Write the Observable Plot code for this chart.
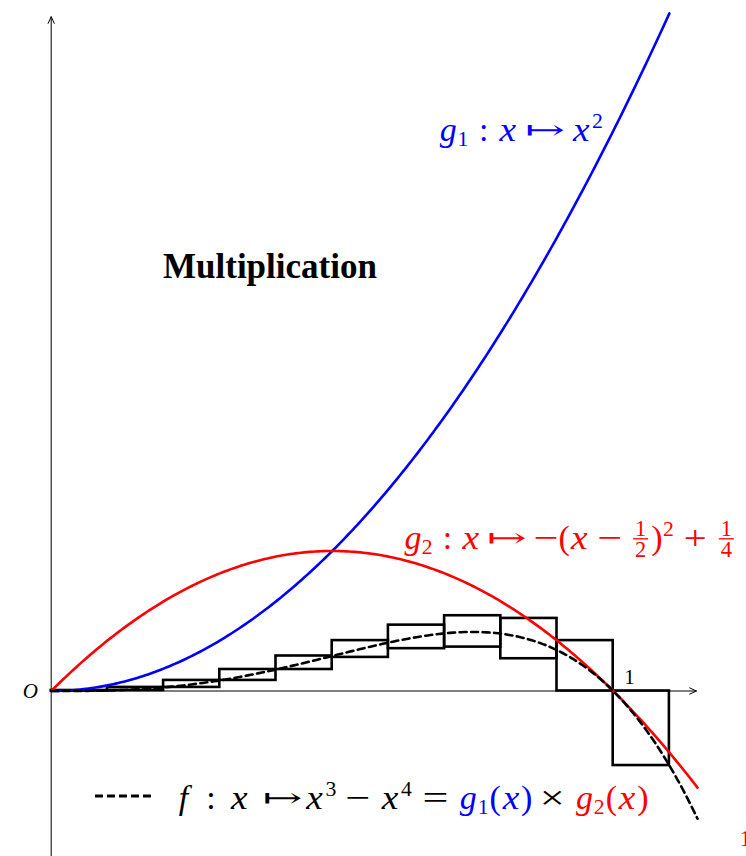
<!DOCTYPE html>
<html>
<head>
<meta charset="utf-8">
<script src="https://cdn.jsdelivr.net/npm/d3@7"></script>
<script src="https://cdn.jsdelivr.net/npm/@observablehq/plot@0.6"></script>
<style>
  html, body { margin: 0; padding: 0; background: #fff; }
  #chart { width: 746px; height: 856px; overflow: hidden; }
</style>
</head>
<body>
<div id="chart"></div>
<script>
// Subdivision of [0, 1.1] in steps of 0.1: interval product of g1 and g2 on each cell
const cellStart = [0, 0.1, 0.2, 0.3, 0.4, 0.5, 0.6, 0.7, 0.8, 0.9, 1.0];
const cellLow   = [0, 0.0009, 0.0064, 0.0189, 0.0384, 0.06, 0.0756, 0.0784, 0.0576, 0, -0.1331];
const cellHigh  = [0.0009, 0.0064, 0.0189, 0.0384, 0.0625, 0.09, 0.1176, 0.1344, 0.1296, 0.09, 0];
const cellWidth = 0.1;

// The three functions, as written in their labels
const g1 = x => x * x;
const g2 = x => -((x - 0.5) ** 2) + 0.25;
const f = x => x ** 3 - x ** 4;
const curveEnd = {g1: 1.1, g2: 1.15, f: 1.15};

// Axis extents and tick labels
const xAxisEnd = 1.148;
const yAxisTop = 1.204;
const yAxisBottom = -0.32;
const xTickLabels = ["1"];
const originLabel = "O";

const BLUE = "#0000ff", RED = "#ff0000";

function sample(fn, end, n = 230) {
  return d3.range(n + 1).map(i => {
    const x = (i / n) * end;
    return {x, y: fn(x)};
  });
}

const cells = cellStart.map((a, i) => ({x1: a, x2: a + cellWidth, y1: cellLow[i], y2: cellHigh[i]}));

const plot = Plot.plot({
  width: 746,
  height: 856,
  margin: 0,
  x: {domain: [0, 1], range: [50.7, 612.7], axis: null},
  y: {domain: [0, 1], range: [690.5, 130.5], axis: null},
  marks: [
    Plot.arrow([{x1: 0, y1: 0, x2: xAxisEnd, y2: 0}], {
      x1: "x1", y1: "y1", x2: "x2", y2: "y2",
      stroke: "black", strokeWidth: 1, headLength: 11, headAngle: 50
    }),
    Plot.arrow([{x1: 0, y1: yAxisBottom, x2: 0, y2: yAxisTop}], {
      x1: "x1", y1: "y1", x2: "x2", y2: "y2",
      stroke: "black", strokeWidth: 1, headLength: 11, headAngle: 50
    }),
    Plot.rect(cells, {
      x1: "x1", x2: "x2", y1: "y1", y2: "y2",
      fill: "none", stroke: "black", strokeWidth: 2.6
    }),
    Plot.line(sample(g1, curveEnd.g1), {x: "x", y: "y", stroke: BLUE, strokeWidth: 2.6}),
    Plot.line(sample(g2, curveEnd.g2), {x: "x", y: "y", stroke: RED, strokeWidth: 2.6}),
    Plot.line(sample(f, curveEnd.f), {
      x: "x", y: "y", stroke: "black", strokeWidth: 2.6, strokeDasharray: "7,4.5"
    })
  ]
});

document.getElementById("chart").append(plot);
const svg = d3.select(plot);
const SERIF = "Liberation Serif, DejaVu Serif, serif";
const GLYPH = 34;  // rendered glyph size

// Advance widths (em) of each glyph in the formula layout
const ADV = {x: 0.572, g: 0.477, f: 0.55, ":": 0.278, "↦": 1.0, "−": 0.778, "+": 0.778,
             "=": 0.778, "×": 0.778, "(": 0.33, ")": 0.33};
// Horizontal stretch (and size) so operators and letters fill their boxes like math type
const STRETCH = {"↦": 1.75, "−": 1.3, "+": 1.2, "=": 1.35, "×": 1.3, x: 1.1};
const SIZE = {"↦": 0.8};
const SCRIPT_ADV = 0.37, FRAC_ADV = 0.64;

// Lays out a formula: every glyph is centred in its own advance box
function typeset(x0, baseline, em, parts, defaultColor) {
  const g = svg.append("g").attr("font-family", SERIF).attr("text-anchor", "middle");
  let x = x0;
  for (const p of parts) {
    if (typeof p === "number") { x += p * em; continue; }
    const color = p.color || defaultColor;
    if (p.frac) {
      const fs = GLYPH * 0.66;
      const w = FRAC_ADV * em;
      const cx = x + w / 2;
      const bar = baseline - 0.3 * GLYPH;
      g.append("text").attr("x", cx).attr("y", bar - 2.5).attr("font-size", fs)
        .attr("fill", color).text(p.frac[0]);
      g.append("text").attr("x", cx).attr("y", bar + 18.5).attr("font-size", fs)
        .attr("fill", color).text(p.frac[1]);
      g.append("line").attr("x1", cx - 7.5).attr("x2", cx + 7.5)
        .attr("y1", bar).attr("y2", bar).attr("stroke", color).attr("stroke-width", 1.3);
      x += w;
      continue;
    }
    const script = p.sub || p.sup;
    const w = (script ? SCRIPT_ADV : (ADV[p.t] ?? 0.5)) * em;
    const fs = script ? GLYPH * 0.64 : GLYPH * (SIZE[p.t] ?? 1);
    let dy = p.sub ? 0.16 * GLYPH : p.sup ? -0.37 * GLYPH : 0;
    if (p.t === "↦") dy = -0.06 * GLYPH;
    const sx = script ? 1 : (STRETCH[p.t] ?? 1);
    g.append("text")
      .attr("transform", `translate(${x + w / 2},${baseline + dy}) scale(${sx},1)`)
      .attr("font-size", fs).attr("fill", color)
      .attr("font-style", p.i ? "italic" : "normal")
      .text(p.t);
    x += w;
  }
  return x;
}

const I = t => ({t, i: true});
const R = t => ({t});

// g1 label
typeset(440, 141, 34.5, [
  I("g"), {t: "1", sub: true}, 0.278, R(":"), 0.278,
  I("x"), 0.278, R("↦"), 0.278, I("x"), {t: "2", sup: true}
], BLUE);

// g2 label
typeset(405, 549, 33.5, [
  I("g"), {t: "2", sub: true}, 0.278, R(":"), 0.278,
  I("x"), 0.278, R("↦"), 0.278, R("−"), R("("), I("x"),
  0.222, R("−"), 0.222, {frac: ["1", "2"]}, R(")"), {t: "2", sup: true},
  0.222, R("+"), 0.222, {frac: ["1", "4"]}
], RED);

// Title
svg.append("text").attr("x", 163).attr("y", 278).attr("text-anchor", "start")
  .attr("font-family", SERIF).attr("font-weight", "bold").attr("font-size", 35)
  .attr("fill", "black").text("Multiplication");

// Origin and unit tick labels
svg.append("text").attr("x", 38).attr("y", 698).attr("text-anchor", "end")
  .attr("font-family", SERIF).attr("font-style", "italic").attr("font-size", 21)
  .text(originLabel);
svg.append("text").attr("x", 629.5).attr("y", 684).attr("text-anchor", "middle")
  .attr("font-family", SERIF).attr("font-size", 21)
  .text(xTickLabels[0]);

// Legend for the dashed product curve
svg.append("line").attr("x1", 95).attr("x2", 151).attr("y1", 796).attr("y2", 796)
  .attr("stroke", "black").attr("stroke-width", 2.8).attr("stroke-dasharray", "8,4");
typeset(174, 809, 34.8, [
  I("f"), 0.37, R(":"), 0.39,
  I("x"), 0.45, R("↦"), 0.14, I("x"), {t: "3", sup: true},
  0.19, R("−"), 0.26, I("x"), {t: "4", sup: true},
  0.26, R("="), 0.32,
  {t: "g", i: true, color: BLUE}, {t: "1", sub: true, color: BLUE}, {t: "(", color: BLUE},
  {t: "x", i: true, color: BLUE}, {t: ")", color: BLUE},
  0.18, R("×"), 0.3,
  {t: "g", i: true, color: RED}, {t: "2", sub: true, color: RED}, {t: "(", color: RED},
  {t: "x", i: true, color: RED}, {t: ")", color: RED}
], "black");

// Label running off the right edge
svg.append("text").attr("x", 739.5).attr("y", 846).attr("text-anchor", "start")
  .attr("font-family", SERIF).attr("font-size", 24).attr("fill", RED).text("1");
</script>
</body>
</html>
